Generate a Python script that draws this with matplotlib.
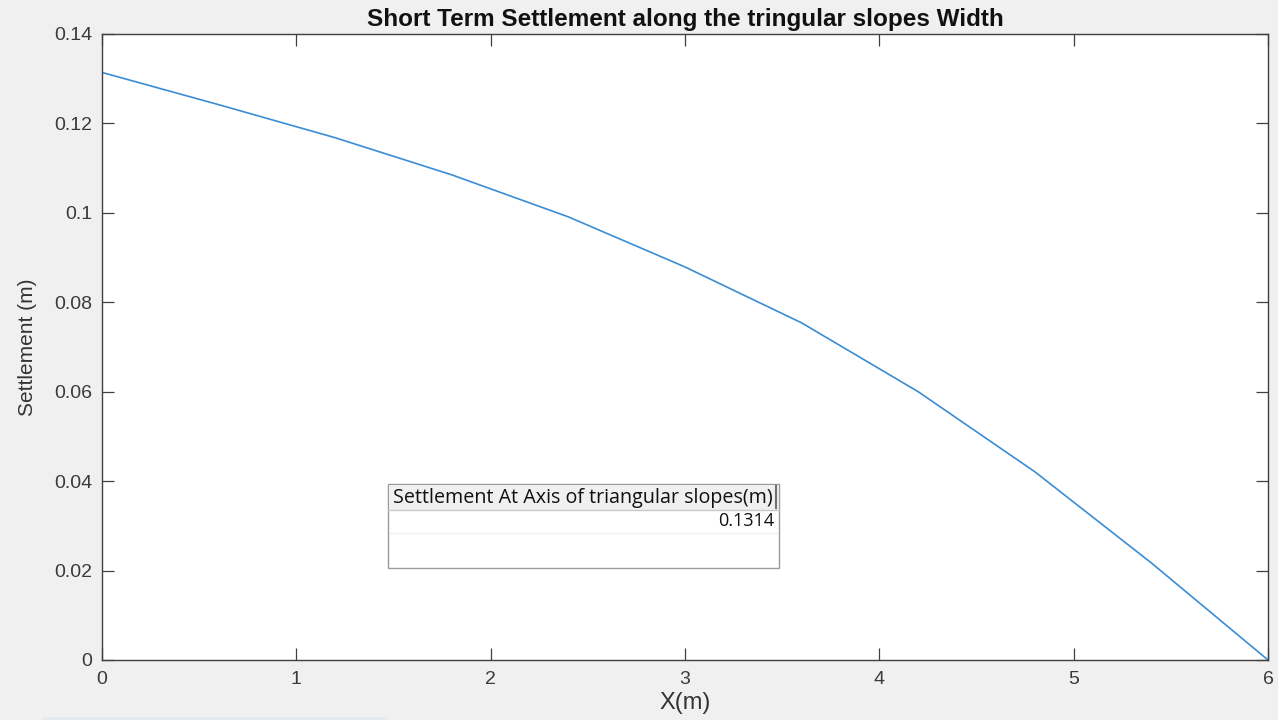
import matplotlib
matplotlib.use("Agg")
import matplotlib.pyplot as plt
from matplotlib.patches import Rectangle
from matplotlib.lines import Line2D

# settlement profile along the slope width
x_m = [0.0, 0.6, 1.2, 1.8, 2.4, 3.0, 3.6, 4.2, 4.8, 5.4, 6.0]
settlement = [0.1314, 0.1242, 0.1168, 0.1085, 0.0991, 0.0879,
              0.0754, 0.0600, 0.0421, 0.0217, 0.0]
axis_settlement = 0.1314

xticks = [0, 1, 2, 3, 4, 5, 6]
yticks = [0, 0.02, 0.04, 0.06, 0.08, 0.1, 0.12, 0.14]
ytick_labels = ["0", "0.02", "0.04", "0.06", "0.08", "0.1", "0.12", "0.14"]

plt.rcParams["font.family"] = ["Liberation Sans", "DejaVu Sans"]

W, H = 1278, 720
fig = plt.figure(figsize=(W / 100, H / 100), dpi=100, facecolor="#f0f0f0")
ax = fig.add_axes([102 / W, 1 - 660 / H, 1166 / W, 626 / H])
ax.set_facecolor("white")

ax.plot(x_m, settlement, color="#3a8dd4", lw=1.2)

ax.set_xlim(0, 6)
ax.set_ylim(0, 0.14)
ax.set_xticks(xticks)
ax.set_yticks(yticks)
ax.set_yticklabels(ytick_labels)
ax.tick_params(direction="in", length=8.5, width=0.9, colors="#404040",
               labelcolor="#3a3a3a", labelsize=14, top=True, right=True,
               pad=7)
ax.tick_params(axis="x", pad=8)
for s in ax.spines.values():
    s.set_color("#404040")
    s.set_linewidth(1.0)

ax.set_title("Short Term Settlement along the tringular slopes Width",
             fontsize=17.5, fontweight="bold", color="#111111", pad=6)
ax.set_xlabel("X(m)", fontsize=17, color="#333333", labelpad=3)
ax.set_ylabel("Settlement (m)", fontsize=15, color="#333333", labelpad=12)

# result table overlay (figure pixel coordinates)
def px(x, y):
    return x / W, 1 - y / H

tx0, tx1 = 388, 779
ty0, ty_head, ty_row, ty1 = 484, 510, 533, 568
fig.patches.append(Rectangle(px(tx0, ty1), (tx1 - tx0) / W, (ty1 - ty0) / H,
                             transform=fig.transFigure, facecolor="white",
                             edgecolor="#9a9a9a", lw=1.0, zorder=5))
fig.patches.append(Rectangle(px(tx0 + 1, ty_head), (tx1 - tx0 - 2) / W,
                             (ty_head - ty0 - 1) / H,
                             transform=fig.transFigure, facecolor="#f0f0f0",
                             edgecolor="none", zorder=6))
fig.lines.append(Line2D([tx0 / W, tx1 / W], [1 - ty_head / H] * 2,
                        transform=fig.transFigure, color="#c8c8c8", lw=1.0,
                        zorder=7))
fig.lines.append(Line2D([(tx0 + 2) / W, (tx1 - 2) / W], [1 - ty_row / H] * 2,
                        transform=fig.transFigure, color="#f0f0f0", lw=1.0,
                        zorder=7))
fig.lines.append(Line2D([(tx1 - 3) / W] * 2, [1 - (ty0 + 2) / H, 1 - (ty_head - 2) / H],
                        transform=fig.transFigure, color="#707070", lw=1.5,
                        zorder=7))
fig.text(*px(393, (ty0 + ty_head) / 2 + 1), "Settlement At Axis of triangular slopes(m)",
         family=["Open Sans", "DejaVu Sans"], fontsize=14.2, color="#111111",
         ha="left", va="center", zorder=8)
fig.text(*px(774, (ty_head + ty_row) / 2), f"{axis_settlement:.4f}",
         family=["Open Sans", "DejaVu Sans"], fontsize=13, color="#111111",
         ha="right", va="center", zorder=8)

# faint strip along the bottom edge
fig.patches.append(Rectangle(px(43, 720), (388 - 43) / W, 3 / H,
                             transform=fig.transFigure, facecolor="#e3ebf2",
                             edgecolor="none", zorder=1))

fig.savefig("out.png", dpi=100, facecolor=fig.get_facecolor())
